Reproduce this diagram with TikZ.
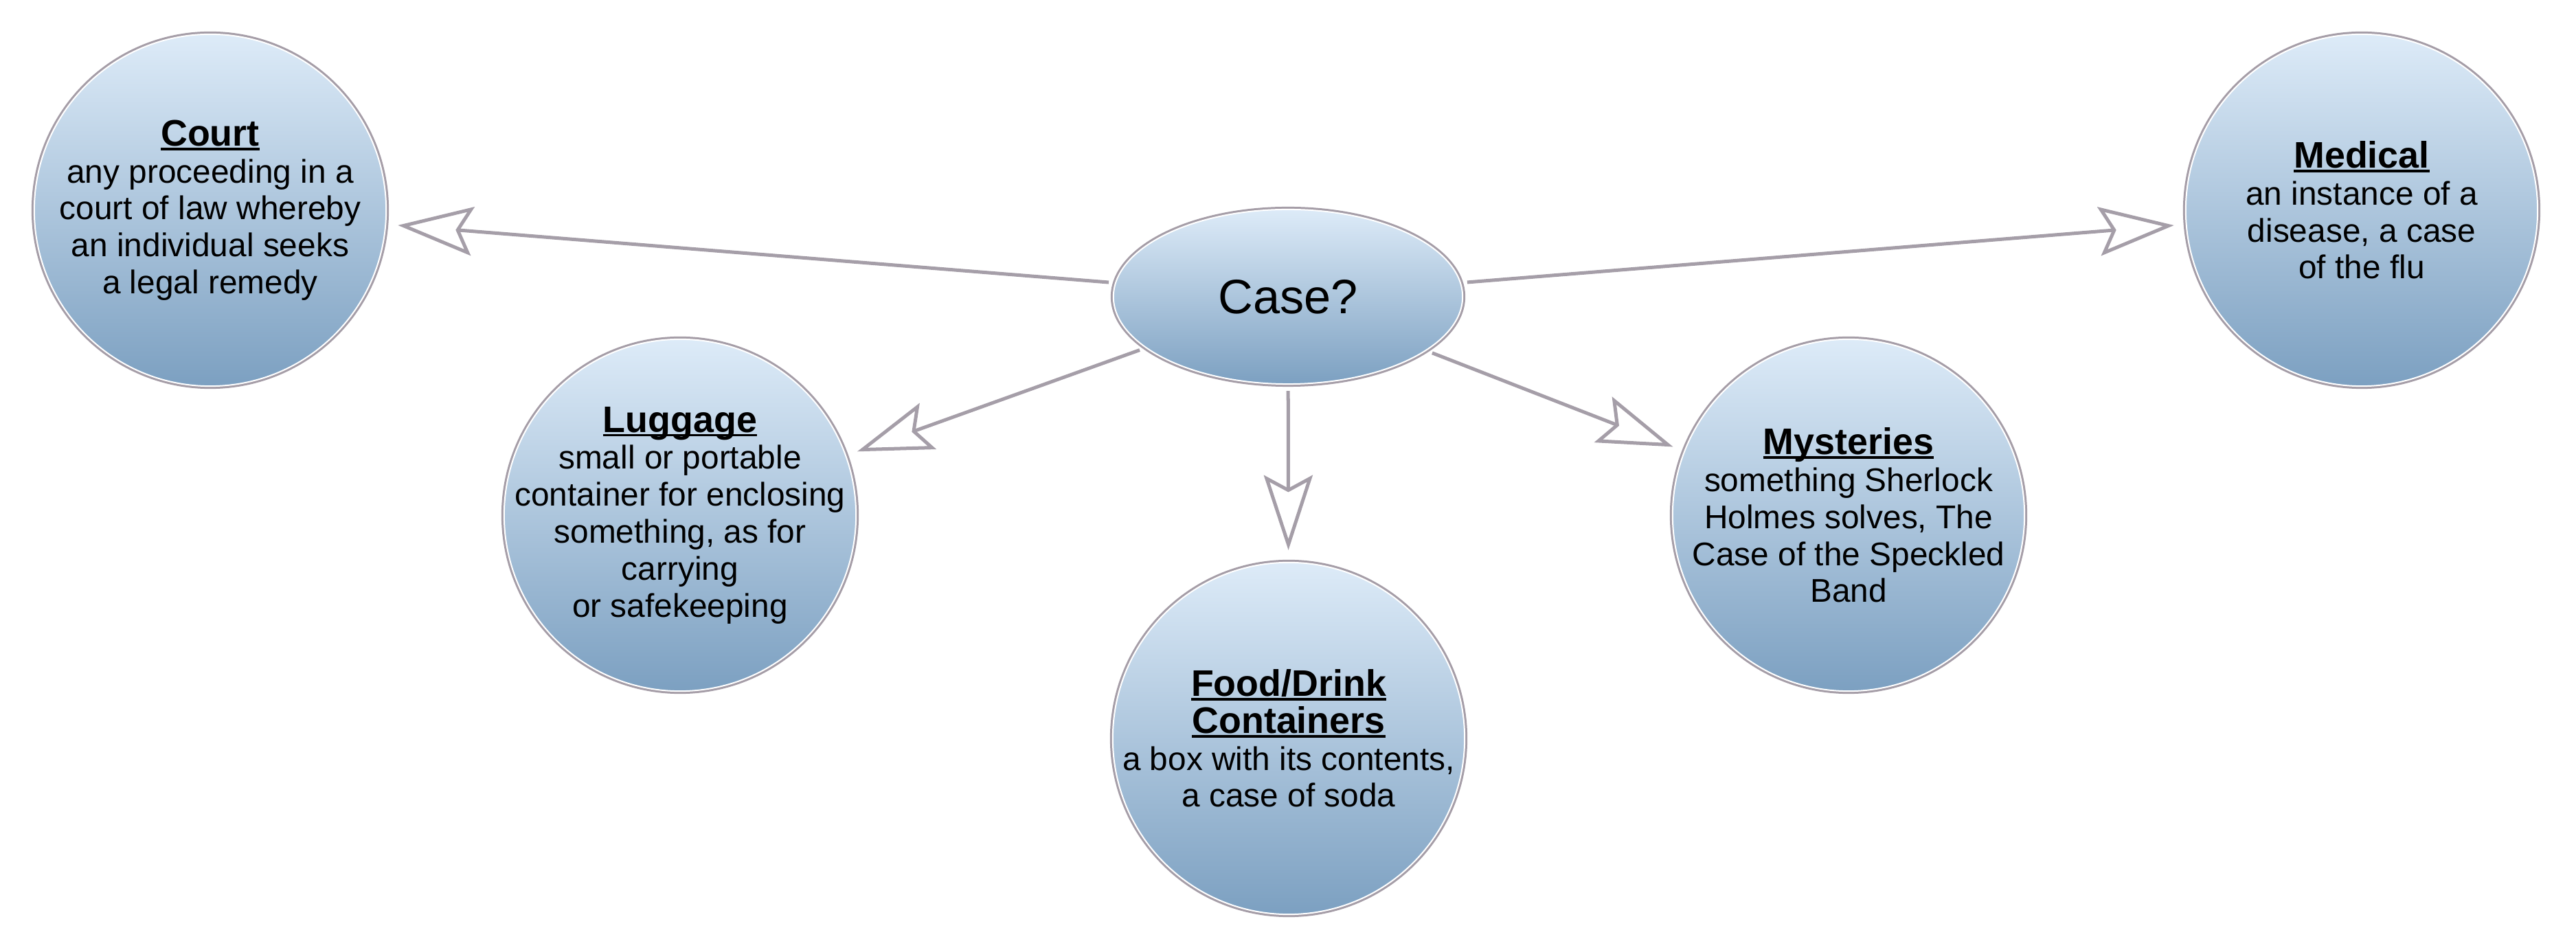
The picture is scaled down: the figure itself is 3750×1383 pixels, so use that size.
\documentclass[tikz,border=0pt]{standalone}
\usepackage{fontspec}
\setmainfont{Liberation Sans}
\usepackage{tikz}
\usetikzlibrary{arrows.meta,shapes.geometric}
\definecolor{ringgray}{HTML}{A59DA7}
\definecolor{arrowgray}{HTML}{A59EA8}
\definecolor{topblue}{HTML}{DDEBF8}
\definecolor{botblue}{HTML}{7CA0C1}
\newcommand{\ulhead}[1]{{\fontsize{15.3pt}{15.3pt}\selectfont\bfseries\setbox0\hbox{#1}\rlap{\rule[-0.12em]{\wd0}{0.07em}}\box0}}
\tikzstyle{topic}=[circle,minimum size=5.12cm,inner sep=-0.5cm,align=center,draw=white,line width=0.02cm,top color=topblue,bottom color=botblue,preaction={draw=ringgray,line width=0.08cm},font=\fontsize{13.6pt}{15.3pt}\selectfont]
\tikzstyle{hub}=[topic,ellipse,minimum width=5.08cm,minimum height=2.54cm,font=\fontsize{20pt}{24pt}\selectfont]

\begin{document}
\begin{tikzpicture}[x=0.01cm,y=-0.01cm]
  \tikzset{edge/.style = {-{Stealth[open,length=1.09cm,width=0.71cm,inset=0.19cm]},draw=arrowgray,line width=0.05cm,shorten <=0.09cm,shorten >=0.17cm}}
  \useasboundingbox (0,0) rectangle (3750,1383);
  \node[hub] (case) at (1875,432) {Case?};
  \node[topic] (court) at (306,306) {\ulhead{Court}\\any proceeding in a\\court of law whereby\\an individual seeks\\a legal remedy};
  \node[topic] (luggage) at (990,750) {\ulhead{Luggage}\\small or portable\\container for enclosing\\something, as for\\carrying\\or safekeeping};
  \node[topic] (food) at (1876,1075) {\ulhead{Food/Drink}\\\ulhead{Containers}\\a box with its contents,\\a case of soda};
  \node[topic] (mysteries) at (2691,750) {\ulhead{Mysteries}\\something Sherlock\\Holmes solves, The\\Case of the Speckled\\Band};
  \node[topic] (medical) at (3438,306) {\ulhead{Medical}\\an instance of a\\disease, a case\\of the flu};
    \draw[edge] (case) to (court);
    \draw[edge] (case) to (luggage);
    \draw[edge] (case) to (food);
    \draw[edge] (case) to (mysteries);
    \draw[edge] (case) to (medical);
\end{tikzpicture}
\end{document}
